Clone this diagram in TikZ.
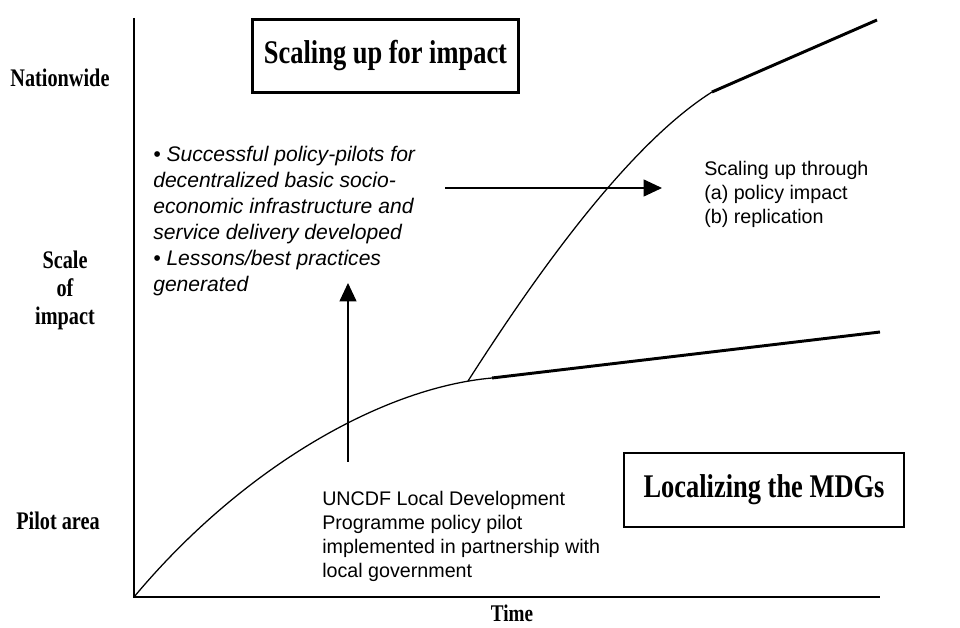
\documentclass[tikz,border=0pt]{standalone}
\usepackage{fontspec}
\setmainfont{Liberation Serif}
\setsansfont{Liberation Sans}
\usetikzlibrary{arrows.meta}
\newcommand{\narrowtext}[1]{\scalebox{0.8}[1]{#1}}

\begin{document}
\begin{tikzpicture}[x=0.025cm,y=-0.025cm,
  axislabel/.style={font=\bfseries\fontsize{18}{24}\selectfont,inner sep=0pt},
  titlebox/.style={draw,line width=2pt,font=\bfseries\fontsize{23.5}{27}\selectfont},
  note/.style={font=\sffamily\fontsize{14}{17}\selectfont,align=left,anchor=north west,inner sep=0pt},
  growth/.style={line width=0.9pt},
  trend/.style={line width=2.1pt},
  pointer/.style={line width=0.9pt,-{Triangle[length=13pt,width=12pt]}}]
\useasboundingbox (0,0) rectangle (960,628);

% Axis
\coordinate (O) at (134,597);
\coordinate (ytop) at (134,18);
\coordinate (xend) at (880,597);
\draw[line width=1pt] (ytop) -- (O) -- (xend);

% Axis labels
\node[axislabel] (nationwide) at (60,78) {\narrowtext{Nationwide}};
\node[axislabel] (scale) at (65,290) {\narrowtext{\begin{tabular}{@{}c@{}}Scale\\[-4pt]of\\[-4pt]impact\end{tabular}}};
\node[axislabel] (pilot) at (58,521) {\narrowtext{Pilot area}};
\node[axislabel,font=\bfseries\fontsize{17}{22}\selectfont] (time) at (512,613) {\narrowtext{Time}};

% Boxes
\node[titlebox,minimum width=6.65cm,minimum height=1.82cm] (scaling) at (385.5,56) {\narrowtext{Scaling up for impact}};
\node[titlebox,minimum width=7.0cm,minimum height=1.85cm] (localizing) at (764,490) {\narrowtext{Localizing the MDGs}};

% Graph
\coordinate (fork) at (468,381);
\coordinate (lowbend) at (492,378);
\coordinate (highbend) at (712,92);
\draw[growth] (O) .. controls (240,470) and (380,388) .. (lowbend);
\draw[growth] (fork) .. controls (520,300) and (620,150) .. (highbend);
\draw[trend] (lowbend) -- (880,332);
\draw[trend] (highbend) -- (877,20);

% Notes
\node[note,font=\sffamily\itshape\fontsize{15}{18.5}\selectfont] (lessons) at (153,146)
  {• Successful policy-pilots for\\decentralized basic socio-\\economic infrastructure and\\service delivery developed\\• Lessons/best practices\\generated};
\node[note] (through) at (704,161) {Scaling up through\\(a) policy impact\\(b) replication};
\node[note] (uncdf) at (322,491) {UNCDF Local Development\\Programme policy pilot\\implemented in partnership with\\local government};

% Arrows
\coordinate (upfoot) at (348,462);
\coordinate (uptip) at (348,283);
\coordinate (rightfoot) at (445,188);
\coordinate (righttip) at (662,188);
\draw[pointer] (upfoot) -- (uptip);
\draw[pointer] (rightfoot) -- (righttip);
\end{tikzpicture}
\end{document}
